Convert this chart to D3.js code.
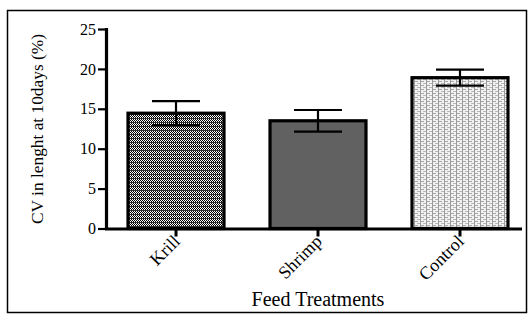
<!DOCTYPE html>
<html><head><meta charset="utf-8">
<script src="https://cdn.jsdelivr.net/npm/d3@7"></script>
<style>body{margin:0;background:#fff}svg{display:block}</style>
</head><body>
<svg id="c" width="532" height="320"></svg>
<script>
const categories = ["Krill", "Shrimp", "Control"];
const means = [14.45, 13.5, 18.9];
const errors = [1.5, 1.35, 1.0];
const yTicks = [0, 5, 10, 15, 20, 25];
const yTitle = "CV in lenght at 10days (%)";
const xTitle = "Feed Treatments";

const svg = d3.select("#c");
const font = "'Liberation Serif','Times New Roman',serif";
const defs = svg.append("defs");

// Krill: dense checker pattern with horizontal stripes
const p1 = defs.append("pattern").attr("id","pk").attr("patternUnits","userSpaceOnUse").attr("width",4).attr("height",4);
p1.append("rect").attr("width",4).attr("height",4).attr("fill","#fff");
[[0,0],[2,0],[1,1],[3,1],[1,3],[3,3]].forEach(([a,b]) =>
  p1.append("rect").attr("x",a).attr("y",b).attr("width",1).attr("height",1).attr("fill","#000"));
p1.append("rect").attr("x",0).attr("y",2).attr("width",4).attr("height",1).attr("fill","#333");

// Control: light dashed pattern
const p3 = defs.append("pattern").attr("id","pc").attr("patternUnits","userSpaceOnUse").attr("width",6).attr("height",4);
p3.append("rect").attr("width",6).attr("height",4).attr("fill","#f2f2f2");
p3.append("rect").attr("x",0).attr("y",0).attr("width",1).attr("height",4).attr("fill","#9a9a9a");
p3.append("rect").attr("x",1).attr("y",1).attr("width",3).attr("height",1).attr("fill","#a8a8a8");
p3.append("rect").attr("x",3).attr("y",3).attr("width",3).attr("height",1).attr("fill","#b8b8b8");

const fills = ["url(#pk)", "#616161", "url(#pc)"];

// outer frame
svg.append("rect").attr("x",7.5).attr("y",10.5).attr("width",519).attr("height",302)
  .attr("fill","none").attr("stroke","#000").attr("stroke-width",1.5);

const x0 = 106, xEnd = 522, yTop = 29, yBot = 228.5;
const y = d3.scaleLinear().domain([0,25]).range([yBot, yTop]);
const x = d3.scaleBand().domain(categories).range([106, 530]).paddingInner(0.324).paddingOuter(0.155);

const bw = x.bandwidth();
svg.selectAll("rect.bar").data(categories).join("rect").attr("class","bar")
  .attr("x", d => x(d))
  .attr("y", (d,i) => y(means[i]))
  .attr("width", bw)
  .attr("height", (d,i) => yBot - y(means[i]))
  .attr("fill", (d,i) => fills[i])
  .attr("stroke","#000").attr("stroke-width",3.2);

// error bars
const eg = svg.append("g").attr("stroke","#000").attr("stroke-width",2.2);
categories.forEach((c,i) => {
  const cx = x(c) + bw/2, hw = bw/4;
  const yu = y(means[i]+errors[i]), yl = y(means[i]-errors[i]);
  eg.append("line").attr("x1",cx).attr("x2",cx).attr("y1",yu).attr("y2",yl);
  eg.append("line").attr("x1",cx-hw).attr("x2",cx+hw).attr("y1",yu).attr("y2",yu);
  eg.append("line").attr("x1",cx-hw).attr("x2",cx+hw).attr("y1",yl).attr("y2",yl);
});

// y axis
const ya = svg.append("g").attr("transform",`translate(${x0},0)`)
  .call(d3.axisLeft(y).tickValues(yTicks).tickSize(8).tickSizeOuter(0).tickPadding(2));
ya.select(".domain").attr("stroke-width",3.2).attr("d",`M0.5,${yTop-1}V${yBot+1}`);
ya.selectAll(".tick line").attr("stroke-width",2.2);
ya.selectAll(".tick text").attr("font-family",font).attr("font-size",16).attr("fill","#000");

// x axis
const xa = svg.append("g").attr("transform",`translate(0,${yBot})`)
  .call(d3.axisBottom(x).tickSize(8).tickSizeOuter(0).tickPadding(4));
xa.select(".domain").attr("stroke-width",3.2).attr("d",`M${x0-1},0.5H${xEnd}`);
xa.selectAll(".tick line").attr("stroke-width",3);
xa.selectAll(".tick text").attr("font-family",font).attr("font-size",18).attr("fill","#000")
  .attr("text-anchor","end").attr("dy",null)
  .attr("transform","translate(5,14) rotate(-45)").attr("y",0).attr("x",0);

// titles
svg.append("text").attr("transform","translate(43,129) rotate(-90)")
  .attr("text-anchor","middle").attr("font-family",font).attr("font-size",17)
  .attr("textLength",190).attr("lengthAdjust","spacingAndGlyphs").text(yTitle);
svg.append("text").attr("x",318).attr("y",306).attr("text-anchor","middle")
  .attr("font-family",font).attr("font-size",20).text(xTitle);
</script>
</body></html>
